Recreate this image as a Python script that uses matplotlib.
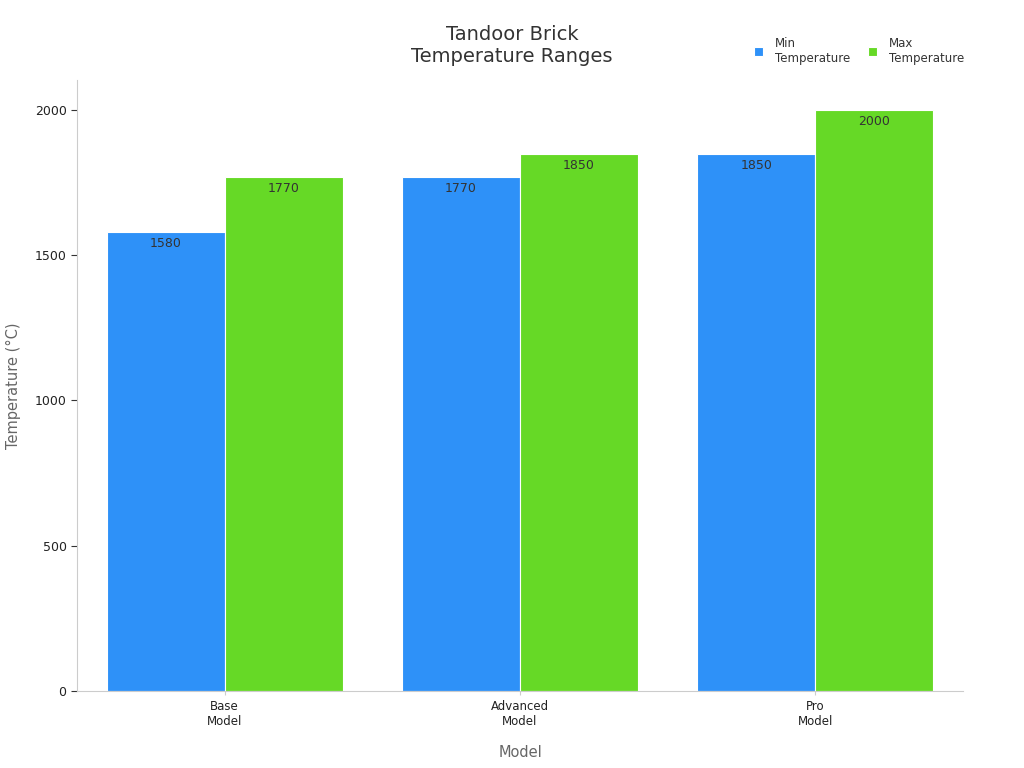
import matplotlib
matplotlib.use("Agg")
import matplotlib.pyplot as plt
import numpy as np

categories = ["Base\nModel", "Advanced\nModel", "Pro\nModel"]
min_temp = [1580, 1770, 1850]
max_temp = [1770, 1850, 2000]
series_names = ["Min\nTemperature", "Max\nTemperature"]
colors = ["#2E91F8", "#66D926"]

fig = plt.figure(figsize=(10.24, 7.68), dpi=100)
ax = fig.add_axes([77/1024, 1-691/768, (963-77)/1024, (691-80)/768])
x = np.arange(len(categories))
w = 0.4
for vals, off, c, name in [(min_temp, -w/2, colors[0], series_names[0]), (max_temp, w/2, colors[1], series_names[1])]:
    bars = ax.bar(x + off, vals, w, color=c, edgecolor="white", linewidth=0.8, label=name)
    for b, v in zip(bars, vals):
        ax.text(b.get_x() + b.get_width()/2, v - 18, str(v), ha="center", va="top", fontsize=9, color="#333333")

ax.set_xlim(-0.5, 2.5)
ax.set_ylim(0, 2103)
ax.set_xticks(x)
ax.set_xticklabels(categories, fontsize=8.5, color="#222222")
ax.set_yticks([0, 500, 1000, 1500, 2000])
ax.tick_params(axis="y", labelsize=9, colors="#222222", length=4, color="#333333")
ax.tick_params(axis="x", length=3, color="#cccccc")
for s in ["top", "right"]:
    ax.spines[s].set_visible(False)
for s in ["left", "bottom"]:
    ax.spines[s].set_color("#cccccc")
ax.set_xlabel("Model", fontsize=10.5, color="#666666", labelpad=12)
ax.set_ylabel("Temperature (°C)", fontsize=10.5, color="#666666", labelpad=10)
fig.text(512/1024, 1-46/768, "Tandoor Brick\nTemperature Ranges", ha="center", va="center", fontsize=14, color="#333333")
leg = fig.legend(loc="upper right", bbox_to_anchor=(975/1024, 1-26/768), ncol=2, frameon=False,
                 fontsize=8.5, handlelength=0.8, handleheight=0.8, columnspacing=1.5, handletextpad=1.0)
for t in leg.get_texts():
    t.set_color("#333333")
fig.savefig("out.png", dpi=100)
